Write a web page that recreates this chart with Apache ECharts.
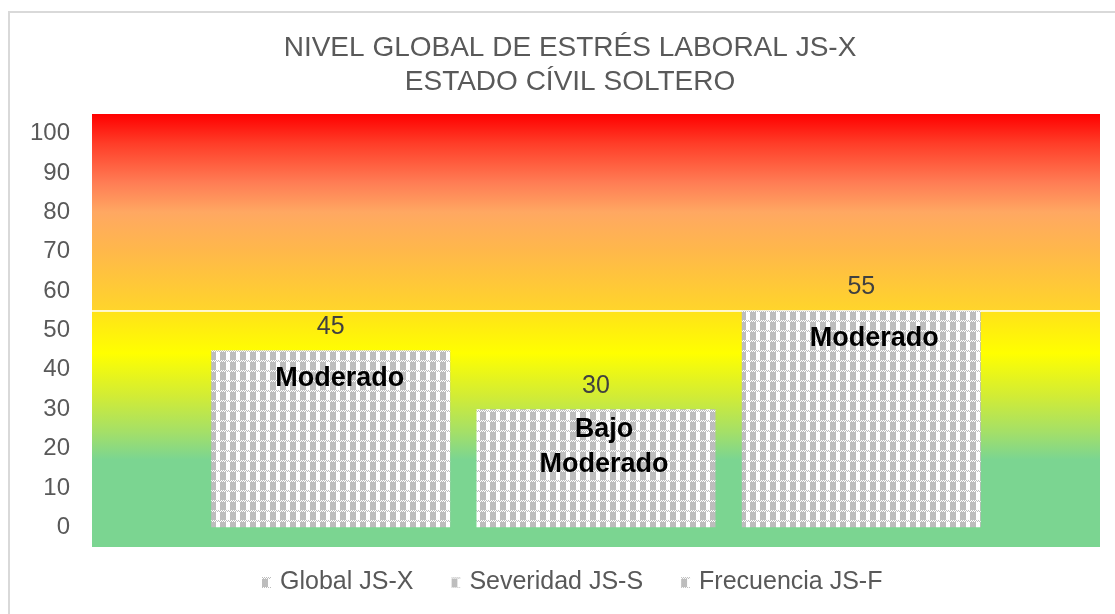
<!DOCTYPE html>
<html>
<head>
<meta charset="utf-8">
<script src="https://cdn.jsdelivr.net/npm/echarts@6/dist/echarts.min.js"></script>
<style>
  html, body { margin: 0; padding: 0; background: #fff; }
  #chart { width: 1115px; height: 614px; }
</style>
</head>
<body>
<div id="chart"></div>
<script>
const titleLines = ['NIVEL GLOBAL DE ESTRÉS LABORAL JS-X', 'ESTADO CÍVIL SOLTERO'];
const categories = ['Soltero'];
const seriesNames = ['Global JS-X', 'Severidad JS-S', 'Frecuencia JS-F'];
const seriesValues = [45, 30, 55];
const levelLabels = ['Moderado', 'Bajo\nModerado', 'Moderado'];
const bandLimits = [-5, 55, 105];
const tickLabels = [0, 10, 20, 30, 40, 50, 60, 70, 80, 90, 100];

const FONT = '"Liberation Sans", Arial, sans-serif';

// checker pattern used by the bars (Excel pattern fill)
function makePattern() {
  const c = document.createElement('canvas');
  c.width = 10;
  c.height = 10;
  const ctx = c.getContext('2d');
  ctx.fillStyle = '#ffffff';
  ctx.fillRect(0, 0, 10, 10);
  ctx.fillStyle = '#bdbdbd';
  for (let x = 0; x < 10; x++) {
    ctx.fillRect(x, x % 2, 1, 1);
  }
  ctx.fillRect(0, 2, 6, 8);
  return c;
}
const pattern = { image: makePattern(), repeat: 'repeat' };

const topBand = new echarts.graphic.LinearGradient(0, 0, 0, 1, [
  { offset: 0, color: '#ff0000' },
  { offset: 0.15, color: '#ff3d28' },
  { offset: 0.35, color: '#ff7d55' },
  { offset: 0.5, color: '#ffa862' },
  { offset: 0.7, color: '#ffb84a' },
  { offset: 1, color: '#ffd52a' }
]);
const bottomBand = new echarts.graphic.LinearGradient(0, 0, 0, 1, [
  { offset: 0, color: '#ffe21a' },
  { offset: 0.18, color: '#ffff00' },
  { offset: 0.36, color: '#d2ec35' },
  { offset: 0.52, color: '#a2df6a' },
  { offset: 0.63, color: '#7bd591' },
  { offset: 1, color: '#7bd591' }
]);

const labelShift = [[9, 28], [8, 38], [13, 28]];

const series = seriesNames.map((name, i) => {
  const s = {
    name: name,
    type: 'bar',
    barWidth: 239,
    barGap: '11%',
    data: [seriesValues[i]],
    itemStyle: { color: pattern },
    label: {
      show: true,
      position: 'top',
      distance: 11,
      color: '#404040',
      fontSize: 25,
      fontFamily: FONT
    },
    markPoint: {
      symbol: 'circle',
      symbolSize: 0,
      silent: true,
      data: [{ coord: [0, seriesValues[i]] }],
      label: {
        show: true,
        position: 'inside',
        offset: labelShift[i],
        formatter: levelLabels[i],
        color: '#000000',
        fontSize: 27,
        fontWeight: 'bold',
        lineHeight: 35,
        fontFamily: FONT
      }
    }
  };
  if (i === 0) {
    s.markArea = {
      silent: true,
      data: [
        [{ yAxis: bandLimits[1], itemStyle: { color: topBand } }, { yAxis: bandLimits[2] }],
        [{ yAxis: bandLimits[0], itemStyle: { color: bottomBand } }, { yAxis: bandLimits[1] }]
      ]
    };
    s.markLine = {
      silent: true,
      symbol: 'none',
      z: 1,
      label: { show: false },
      lineStyle: { color: '#ffffff', width: 1.5, type: 'solid' },
      data: [{ yAxis: bandLimits[1] }]
    };
  }
  return s;
});

const chart = echarts.init(document.getElementById('chart'));
chart.setOption({
  animation: false,
  textStyle: { fontFamily: FONT },
  title: {
    text: titleLines.join('\n'),
    left: 565,
    top: 26,
    textAlign: 'center',
    textStyle: {
      color: '#595959',
      fontSize: 28,
      fontWeight: 'normal',
      lineHeight: 34,
      fontFamily: FONT
    }
  },
  graphic: [
    {
      type: 'rect',
      shape: { x: 9, y: 12, width: 1200, height: 700 },
      style: { fill: 'none', stroke: '#d9d9d9', lineWidth: 2 },
      silent: true
    }
  ],
  legend: {
    data: seriesNames,
    left: 257,
    top: 565,
    itemWidth: 9,
    itemHeight: 11,
    itemGap: 38,
    icon: 'rect',
    textStyle: { color: '#595959', fontSize: 25, fontFamily: FONT, padding: [0, 0, 0, 4] }
  },
  grid: { left: 92, right: 15, top: 114, bottom: 67 },
  xAxis: {
    type: 'category',
    data: categories,
    axisLine: { show: false },
    axisTick: { show: false },
    axisLabel: { show: false }
  },
  yAxis: {
    type: 'value',
    min: bandLimits[0],
    max: bandLimits[2],
    interval: 5,
    splitLine: { show: false },
    axisLine: { show: false },
    axisTick: { show: false },
    axisLabel: {
      color: '#595959',
      fontSize: 24,
      margin: 22,
      fontFamily: FONT,
      formatter: (v) => (tickLabels.indexOf(v) >= 0 ? String(v) : '')
    }
  },
  series: series
});
</script>
</body>
</html>
